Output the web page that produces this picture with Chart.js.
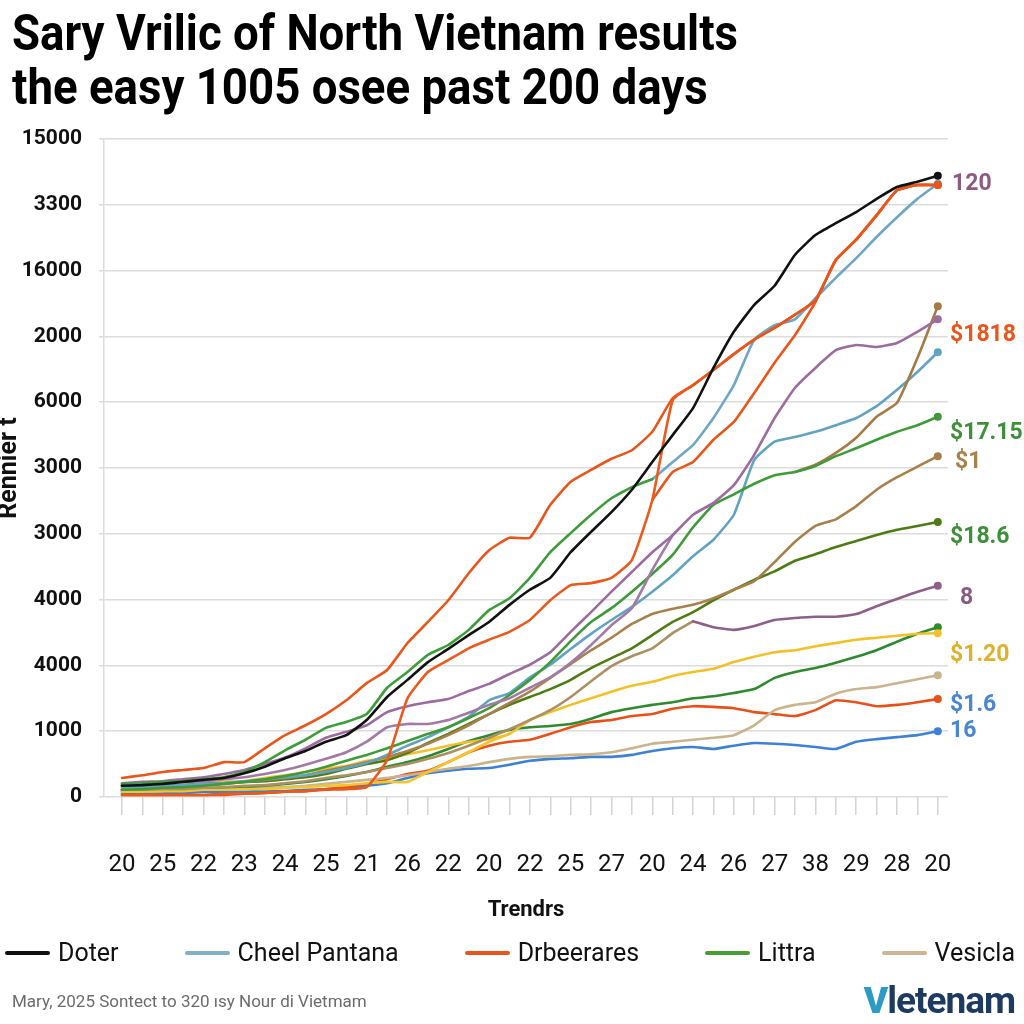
<!DOCTYPE html>
<html>
<head>
<meta charset="utf-8">
<script src="https://cdn.jsdelivr.net/npm/chart.js@4.4.1/dist/chart.umd.min.js"></script>
<style>
  body { margin: 0; width: 1024px; height: 1024px; background: #fff; position: relative; overflow: hidden; font-family: Roboto, "Liberation Sans", sans-serif; }
  #title { position: absolute; left: 12px; top: 6px; font-weight: 700; font-size: 50px; line-height: 54px; color: #000; white-space: nowrap; transform-origin: 0 0; z-index: 2; }
  #title span { display: table; }
  #wrap { position: absolute; left: 0; top: 0; width: 1024px; height: 1024px; }
  #legend { position: absolute; left: 5px; right: 9px; top: 938px; display: flex; justify-content: space-between; align-items: center; font-size: 25px; color: #111; }
  .item { display: flex; align-items: center; }
  .swatch { width: 45px; height: 4px; border-radius: 2px; margin-right: 8px; }
  #source { position: absolute; left: 12px; top: 991px; font-size: 17px; color: #6b6b6b; }
  #logo { position: absolute; right: 9px; top: 979px; font-size: 37px; font-weight: 700; color: #1d3b60; letter-spacing: -1px; }
  #logo b { color: #2b9ac4; }
</style>
</head>
<body>
<div id="title"><span>Sary Vrilic of North Vietnam results</span><span>the easy 1005 osee past 200 days</span></div>
<div id="wrap"><canvas id="chart"></canvas></div>
<div id="legend"></div>
<div id="source">Mary, 2025 Sontect to 320 ısy Nour di Vietmam</div>
<div id="logo"><b>V</b>letenam</div>
<script>
// tick labels as printed on the picture
const dayTicks = ['20','25','22','23','24','25','21','26','22','20','22','25','27','20','24','26','27','38','29','28','20'];
const yTickLabels = ['0','1000','4000','4000','3000','3000','6000','2000','16000','3300','15000'];

// series (values in grid units, 41 samples each)
const doter = [0.17,0.18,0.20,0.23,0.26,0.29,0.36,0.46,0.59,0.70,0.84,0.94,1.17,1.52,1.78,2.05,2.25,2.46,2.66,2.92,3.15,3.33,3.72,4.03,4.33,4.67,5.09,5.50,5.91,6.52,7.07,7.48,7.77,8.24,8.54,8.72,8.89,9.09,9.27,9.35,9.44];
const drbeerares = [0.29,0.33,0.38,0.41,0.44,0.53,0.53,0.74,0.94,1.09,1.26,1.47,1.73,1.93,2.34,2.66,2.99,3.40,3.75,3.94,3.94,4.44,4.79,4.97,5.14,5.27,5.55,6.06,6.26,6.49,6.73,6.95,7.13,7.33,7.55,8.16,8.47,8.84,9.22,9.30,9.30];
const orangeLow = [0.03,0.03,0.03,0.03,0.03,0.05,0.05,0.06,0.08,0.09,0.11,0.12,0.15,0.56,1.50,1.90,2.08,2.26,2.39,2.51,2.69,2.99,3.22,3.25,3.33,3.60,4.51,6.03,6.26,6.49,6.73,6.95,7.13,7.33,7.55,8.16,8.47,8.84,9.22,9.30,9.30];
const orangeBranch = [null,null,null,null,null,null,null,null,null,null,null,null,null,null,null,null,null,null,null,null,null,null,null,null,null,null,4.51,4.94,5.09,5.43,5.70,6.14,6.60,7.02,7.52,8.16,8.47,8.84,9.22,9.30,9.30];
const greenEarly = [0.20,0.21,0.23,0.24,0.27,0.30,0.38,0.53,0.71,0.87,1.05,1.14,1.26,1.66,1.90,2.16,2.31,2.54,2.84,3.02,3.33,3.72,4.01,4.29,4.54,4.71,4.83,null,null,null,null,null,null,null,null,null,null,null,null,null,null];
const cheelPantana = [null,null,null,null,null,null,null,null,null,null,null,null,null,null,null,null,null,null,null,null,null,null,null,null,null,null,4.83,5.09,5.35,5.76,6.26,6.95,7.17,7.26,7.58,7.89,8.19,8.51,8.81,9.09,9.32];
const purpleHigh = [0.21,0.23,0.24,0.27,0.30,0.35,0.41,0.50,0.60,0.74,0.90,0.99,1.09,1.29,1.38,1.44,1.49,1.61,1.72,1.87,2.01,2.20,2.51,2.81,3.12,3.42,3.72,3.98,4.29,4.47,4.74,5.20,5.76,6.22,6.52,6.79,6.87,6.84,6.90,7.07,7.26];
const purpleEarly = [0.18,0.20,0.21,0.23,0.24,0.27,0.30,0.35,0.41,0.49,0.58,0.68,0.84,1.06,1.11,1.11,1.17,1.28,1.40,1.50,1.66,1.82,2.04,2.31,2.61,2.87,3.45,3.98,null,null,null,null,null,null,null,null,null,null,null,null,null];
const littra = [0.11,0.12,0.14,0.15,0.17,0.20,0.23,0.27,0.32,0.38,0.46,0.55,0.64,0.74,0.85,0.96,1.06,1.20,1.35,1.55,1.78,2.05,2.37,2.66,2.87,3.12,3.39,3.68,4.10,4.44,4.60,4.76,4.89,4.94,5.03,5.18,5.30,5.43,5.55,5.65,5.78];
const brownJump = [null,null,null,null,null,null,null,null,null,null,null,null,null,null,null,null,null,null,null,null,null,null,null,null,null,null,null,null,null,null,null,null,null,4.94,5.05,5.23,5.46,5.78,5.99,6.67,7.46];
const tealMid = [0.14,0.15,0.17,0.18,0.20,0.21,0.24,0.27,0.30,0.33,0.38,0.44,0.52,0.64,0.78,0.91,1.06,1.22,1.47,1.58,1.82,2.01,2.25,2.48,2.69,2.89,3.12,3.37,3.66,3.91,4.29,5.12,5.40,5.47,5.55,5.65,5.76,5.94,6.19,6.46,6.76];
const brownMid = [0.12,0.14,0.15,0.17,0.18,0.20,0.23,0.26,0.29,0.33,0.40,0.46,0.53,0.61,0.70,0.81,0.94,1.09,1.26,1.43,1.60,1.81,2.02,2.23,2.42,2.63,2.78,2.86,2.92,3.02,3.15,3.28,3.57,3.88,4.12,4.22,4.42,4.67,4.86,5.02,5.18];
const olive = [0.17,0.17,0.18,0.18,0.20,0.21,0.23,0.24,0.27,0.30,0.35,0.43,0.50,0.56,0.67,0.82,0.96,1.11,1.26,1.40,1.52,1.64,1.78,1.96,2.11,2.26,2.46,2.66,2.81,2.99,3.15,3.30,3.43,3.59,3.69,3.80,3.89,3.98,4.06,4.12,4.18];
const purpleLow = [null,null,null,null,null,null,null,null,null,null,null,null,null,null,null,null,null,null,null,null,null,null,null,null,null,null,null,null,2.67,2.58,2.54,2.60,2.69,2.72,2.74,2.74,2.78,2.90,3.01,3.12,3.21];
const brownLow = [0.11,0.11,0.12,0.12,0.14,0.15,0.17,0.18,0.21,0.24,0.29,0.33,0.38,0.44,0.50,0.58,0.67,0.78,0.90,1.03,1.17,1.32,1.52,1.76,1.99,2.14,2.26,2.49,2.67,null,null,null,null,null,null,null,null,null,null,null,null];
const yellow = [0.12,0.14,0.15,0.18,0.20,0.23,0.24,0.29,0.33,0.38,0.43,0.47,0.55,0.59,0.65,0.71,0.78,0.84,0.88,0.96,1.17,1.29,1.40,1.50,1.60,1.69,1.75,1.84,1.90,1.95,2.05,2.13,2.20,2.23,2.29,2.34,2.39,2.42,2.45,2.48,2.49];
const yellowDip = [0.08,0.08,0.09,0.09,0.11,0.11,0.12,0.12,0.14,0.15,0.17,0.18,0.21,0.23,0.23,0.38,0.53,0.68,0.84,0.96,null,null,null,null,null,null,null,null,null,null,null,null,null,null,null,null,null,null,null,null,null];
const greenLow = [0.09,0.09,0.11,0.11,0.12,0.14,0.15,0.17,0.20,0.23,0.27,0.32,0.38,0.46,0.53,0.62,0.73,0.85,0.94,1.02,1.06,1.08,1.11,1.19,1.29,1.35,1.40,1.44,1.50,1.53,1.58,1.64,1.81,1.90,1.96,2.04,2.13,2.23,2.36,2.48,2.58];
const vesicla = [0.09,0.09,0.09,0.11,0.11,0.12,0.12,0.14,0.15,0.17,0.20,0.23,0.26,0.29,0.33,0.38,0.43,0.47,0.53,0.58,0.61,0.62,0.64,0.65,0.68,0.74,0.81,0.84,0.87,0.90,0.94,1.09,1.32,1.40,1.44,1.57,1.64,1.67,1.73,1.79,1.85];
const orangeFlat = [0.03,0.03,0.03,0.03,0.03,0.03,0.05,0.06,0.08,0.09,0.12,0.15,0.20,0.27,0.35,0.40,0.53,0.68,0.78,0.84,0.87,0.96,1.06,1.14,1.17,1.23,1.26,1.34,1.38,1.37,1.35,1.29,1.26,1.23,1.32,1.47,1.44,1.38,1.40,1.44,1.49];
const blueLow = [0.06,0.06,0.06,0.06,0.08,0.08,0.08,0.09,0.09,0.11,0.12,0.14,0.17,0.21,0.29,0.36,0.40,0.43,0.44,0.49,0.55,0.58,0.59,0.61,0.61,0.64,0.70,0.74,0.76,0.73,0.78,0.82,0.81,0.79,0.76,0.73,0.84,0.88,0.91,0.94,1.00];

// labels written at the right end of the plot
const endLabelTexts = ['120','$1818','$17.15','$1','$18.6','8','$1.20','$1.6','16'];
const endLabelValues = [9.31,7.02,5.53,5.09,3.94,3.02,2.16,1.40,1.00];

const legendNames = ['Doter','Cheel Pantana','Drbeerares','Littra','Vesicla'];

// styles
const endLabelColors = ['#8a5d80','#e8561c','#3f8f3a','#a8804c','#3f8f3a','#8a5d80','#dfb02a','#4a86cf','#4a86cf'];
const endLabelIndent = [4,2,2,7,2,12,2,2,2];
const legendColors = ['#111111','#7fb0cc','#e8561c','#4a9a35','#cbb592'];

const lastIndex = doter.length - 1;

function line(label, values, color) {
  return {
    label: label,
    data: values.map((v, i) => ({ x: i, y: v })),
    borderColor: color,
    backgroundColor: color,
    borderWidth: 2.6,
    tension: 0.15,
    spanGaps: false,
    pointRadius: (ctx) => (ctx.dataIndex === lastIndex ? 4 : 0),
    pointBorderWidth: 0,
    pointHoverRadius: 0,
    borderCapStyle: 'round',
    borderJoinStyle: 'round'
  };
}

// first dataset is drawn on top
const datasets = [
  line('Doter', doter, '#111111'),
  line('Drbeerares', drbeerares, '#e8561c'),
  line('Orange 2', orangeLow, '#ea5a1e'),
  line('Orange 3', orangeBranch, '#e8561c'),
  line('Green 1', greenEarly, '#3f9c3c'),
  line('Cheel Pantana', cheelPantana, '#6fa6c4'),
  line('Purple 1', purpleHigh, '#9b6c9d'),
  line('Purple 2', purpleEarly, '#a27aa6'),
  line('Littra', littra, '#3f9a3a'),
  line('Brown 1', brownJump, '#a57a45'),
  line('Teal', tealMid, '#62a3c2'),
  line('Brown 2', brownMid, '#a8804c'),
  line('Olive', olive, '#4e7c14'),
  line('Purple 3', purpleLow, '#8e5f88'),
  line('Brown 3', brownLow, '#ad8f64'),
  line('Yellow', yellow, '#f2c029'),
  line('Yellow 2', yellowDip, '#f2c62e'),
  line('Green 2', greenLow, '#2f8a2f'),
  line('Vesicla', vesicla, '#c9b48e'),
  line('Orange 4', orangeFlat, '#e8501a'),
  line('Blue', blueLow, '#3d80d4')
];

const endLabelPlugin = {
  id: 'endLabels',
  afterDatasetsDraw(chart) {
    const { ctx, chartArea, scales } = chart;
    ctx.save();
    ctx.font = 'bold 23px Roboto, "Liberation Sans", sans-serif';
    ctx.textBaseline = 'middle';
    endLabelTexts.forEach((t, i) => {
      ctx.fillStyle = endLabelColors[i];
      ctx.fillText(t, chartArea.right + endLabelIndent[i], scales.y.getPixelForValue(endLabelValues[i]));
    });
    ctx.restore();
  }
};

new Chart(document.getElementById('chart'), {
  type: 'line',
  data: { datasets: datasets },
  plugins: [endLabelPlugin],
  options: {
    responsive: true,
    maintainAspectRatio: false,
    animation: false,
    devicePixelRatio: 1,
    layout: { padding: { top: 139, right: 76, bottom: 97, left: 0 } },
    plugins: { legend: { display: false }, tooltip: { enabled: false } },
    scales: {
      x: {
        type: 'linear',
        min: -0.88,
        max: 40.5,
        afterBuildTicks: (scale) => {
          scale.ticks = doter.map((_, i) => ({ value: i }));
        },
        afterFit: (scale) => { scale.height = 130; },
        grid: { drawOnChartArea: false, drawTicks: true, tickLength: 18, color: '#d4d4d4', lineWidth: 1.5 },
        border: { display: false },
        ticks: {
          autoSkip: false,
          maxRotation: 0,
          padding: 36,
          color: '#111',
          font: { family: 'Roboto', size: 24 },
          callback: (v) => (v % 2 === 0 ? dayTicks[v / 2] : '')
        },
        title: { display: true, text: 'Trendrs', color: '#111', font: { family: 'Roboto', size: 22, weight: 'bold' }, padding: { top: 0, bottom: 3 } }
      },
      y: {
        min: 0,
        max: 10,
        afterFit: (scale) => { scale.width = 104; },
        grid: { color: '#dcdcdc', lineWidth: 1.5, tickLength: 5 },
        border: { display: true, color: '#dcdcdc', width: 1.5 },
        ticks: {
          stepSize: 1,
          padding: 17,
          color: '#111',
          font: { family: 'Roboto', size: 21, weight: 'bold' },
          callback: (v) => yTickLabels[v]
        },
        title: { display: true, text: 'Rennier t', color: '#111', font: { family: 'Roboto', size: 25, weight: 'bold', lineHeight: 0.8 }, padding: 0 }
      }
    }
  }
});

// html legend
const legendBox = document.getElementById('legend');
legendNames.forEach((name, i) => {
  const item = document.createElement('div');
  item.className = 'item';
  const sw = document.createElement('div');
  sw.className = 'swatch';
  sw.style.background = legendColors[i];
  item.appendChild(sw);
  item.appendChild(document.createTextNode(name));
  legendBox.appendChild(item);
});

// squeeze the title to the narrow width of the original
const title = document.getElementById('title');
const firstLine = title.firstElementChild.getBoundingClientRect().width;
title.style.transform = 'scaleX(' + (726 / firstLine) + ')';
</script>
</body>
</html>
